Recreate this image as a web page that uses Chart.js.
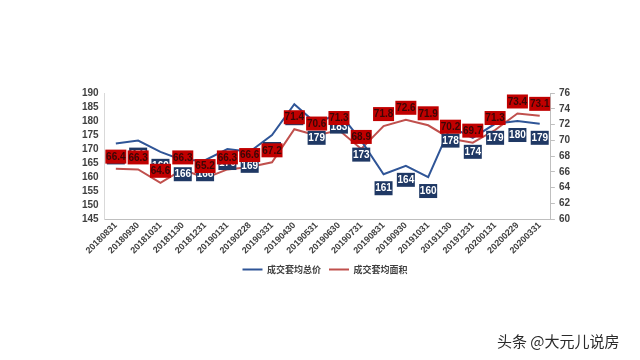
<!DOCTYPE html>
<html>
<head>
<meta charset="utf-8">
<script src="https://cdn.jsdelivr.net/npm/chart.js@4/dist/chart.umd.min.js"></script>
<style>
  html, body { margin: 0; padding: 0; background: #fff; }
  #wrap { position: relative; width: 640px; height: 360px; }
  #mark {
    position: absolute; left: 497px; top: 330px;
    font: 15px "Noto Sans CJK SC", sans-serif; color: #2a2a2a;
    text-shadow: 0 0 2px #fff, 0 0 2px #fff;
  }
</style>
</head>
<body>
<div id="wrap">
  <canvas id="c" width="640" height="360"></canvas>
  <div id="mark">头条 @大元儿说房</div>
</div>
<script>
// --- dữ liệu ---
const months = ['20180831', '20180930', '20181031', '20181130', '20181231', '20190131', '20190228',
  '20190331', '20190430', '20190531', '20190630', '20190731', '20190831', '20190930', '20191031',
  '20191130', '20191231', '20200131', '20200229', '20200331'];
const avgPrice = [172, 173, 169, 166, 166, 170, 169, 175, 186, 179, 183, 173, 161, 164, 160, 178, 174, 179, 180, 179];
const avgArea = [66.4, 66.3, 64.6, 66.3, 65.2, 66.3, 66.6, 67.2, 71.4, 70.6, 71.3, 68.9, 71.8, 72.6, 71.9, 70.2, 69.7, 71.3, 73.4, 73.1];
const priceTicks = [145, 150, 155, 160, 165, 170, 175, 180, 185, 190];
const areaTicks = [60, 62, 64, 66, 68, 70, 72, 74, 76];

const FONT = '"Liberation Sans Narrow", "Liberation Sans", Arial, sans-serif';
const axisColor = '#404040';

// vẽ nhãn dữ liệu dạng hộp màu
const boxLabels = {
  id: 'boxLabels',
  afterDatasetsDraw(chart) {
    const ctx = chart.ctx;
    ctx.save();
    ctx.font = 'bold 10px ' + FONT;
    ctx.textAlign = 'center';
    ctx.textBaseline = 'middle';
    // giá (xanh) trước, diện tích (đỏ) đè lên
    chart.getDatasetMeta(0).data.forEach((pt, i) => {
      const w = 18, h = 14;
      const cy = pt.y + 14;
      ctx.fillStyle = '#1f3864';
      ctx.fillRect(pt.x - w / 2, cy - h / 2, w, h);
      ctx.fillStyle = '#ffffff';
      ctx.fillText(String(avgPrice[i]), pt.x, cy + 0.5);
    });
    chart.getDatasetMeta(1).data.forEach((pt, i) => {
      const w = 21, h = 14;
      const cy = pt.y - 12;
      ctx.fillStyle = '#c00000';
      ctx.fillRect(pt.x - w / 2, cy - h / 2, w, h);
      ctx.fillStyle = '#3a0606';
      ctx.fillText(avgArea[i].toFixed(1), pt.x, cy + 0.5);
    });
    ctx.restore();
  }
};

new Chart(document.getElementById('c'), {
  type: 'line',
  data: {
    labels: months,
    datasets: [{
      label: '成交套均总价',
      data: avgPrice,
      yAxisID: 'y',
      borderColor: '#2f5597',
      borderWidth: 2,
      pointRadius: 0,
      tension: 0
    }, {
      label: '成交套均面积',
      data: avgArea,
      yAxisID: 'y1',
      borderColor: '#c0504d',
      borderWidth: 2,
      pointRadius: 0,
      tension: 0
    }]
  },
  options: {
    responsive: false,
    animation: false,
    devicePixelRatio: 1,
    layout: { padding: { left: 76, right: 66, top: 93, bottom: 76 } },
    scales: {
      x: {
        offset: true,
        grid: { display: false, drawTicks: false },
        border: { display: true, color: '#bfbfbf', width: 1 },
        ticks: {
          color: axisColor, font: { family: FONT, size: 9, weight: 'bold' },
          minRotation: 45, maxRotation: 45, padding: 1, autoSkip: false
        }
      },
      y: {
        position: 'left',
        min: 145, max: 190,
        afterBuildTicks: (ax) => { ax.ticks = priceTicks.map(v => ({ value: v })); },
        grid: { display: false, drawTicks: false },
        border: { display: true, color: '#d9d9d9', width: 1 },
        ticks: { color: axisColor, font: { family: FONT, size: 10, weight: 'bold' }, padding: 6, autoSkip: false }
      },
      y1: {
        position: 'right',
        min: 60, max: 76,
        afterBuildTicks: (ax) => { ax.ticks = areaTicks.map(v => ({ value: v })); },
        grid: { drawOnChartArea: false, drawTicks: true, tickLength: 4, color: '#bfbfbf' },
        border: { display: true, color: '#bfbfbf', width: 1 },
        ticks: { color: axisColor, font: { family: FONT, size: 10, weight: 'bold' }, padding: 4, autoSkip: false }
      }
    },
    plugins: {
      legend: {
        position: 'bottom',
        labels: {
          color: axisColor,
          font: { family: '"Noto Sans CJK SC", sans-serif', size: 9, weight: 'bold' },
          usePointStyle: true,
          pointStyle: 'line',
          pointStyleWidth: 20,
          boxHeight: 9,
          padding: 8
        }
      },
      tooltip: { enabled: false }
    }
  },
  plugins: [boxLabels]
});
</script>
</body>
</html>
